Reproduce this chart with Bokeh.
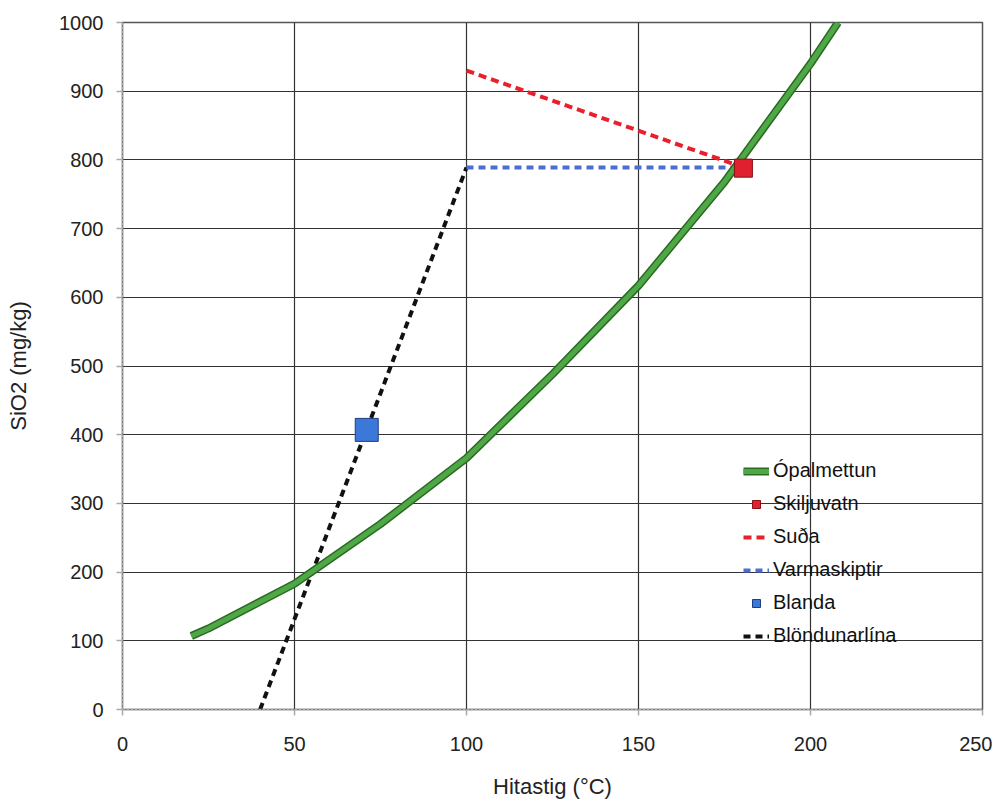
from bokeh.plotting import figure
from bokeh.models import Range1d, Legend, LegendItem, FixedTicker
from bokeh.embed import file_html
from bokeh.resources import INLINE

# Data
opal_t = [20, 25, 50, 75, 100, 125, 150, 175, 200, 208]
opal_sio2 = [107, 118, 183, 270, 366, 488, 617, 768, 940, 1000]

skilju_t = [180.5]
skilju_sio2 = [788]

suda_t = [100, 180]
suda_sio2 = [930, 790]

varma_t = [100, 180]
varma_sio2 = [789, 789]

blanda_t = [71]
blanda_sio2 = [407]

blond_t = [40, 100]
blond_sio2 = [0, 789]

x_ticks = [0, 50, 100, 150, 200, 250]
y_ticks = [0, 100, 200, 300, 400, 500, 600, 700, 800, 900, 1000]

FONT = "Liberation Sans"

p = figure(width=992, height=801, output_backend="svg", toolbar_location=None,
           x_range=Range1d(0, 250), y_range=Range1d(0, 1000),
           min_border_left=122, min_border_right=10, min_border_top=22,
           min_border_bottom=92)

p.outline_line_color = "#555555"
p.outline_line_width = 1.5
p.background_fill_color = "white"
p.border_fill_color = "white"

for ax in (p.xaxis[0], p.yaxis[0]):
    ax.axis_line_color = "#aaaaaa"
    ax.axis_line_width = 1.5
    ax.axis_line_dash = "3 1"
    ax.major_tick_line_color = "#aaaaaa"
    ax.major_tick_line_width = 1.5
    ax.major_tick_out = 6
    ax.major_tick_in = 0
    ax.minor_tick_line_color = None
    ax.major_label_text_font = FONT
    ax.major_label_text_font_size = "20px"
    ax.major_label_text_color = "#222222"
    ax.axis_label_text_font = FONT
    ax.axis_label_text_font_size = "22px"
    ax.axis_label_text_font_style = "normal"
    ax.axis_label_text_color = "#222222"

p.xaxis[0].ticker = FixedTicker(ticks=x_ticks)
p.yaxis[0].ticker = FixedTicker(ticks=y_ticks)
p.xaxis[0].axis_label = "Hitastig (°C)"
p.yaxis[0].axis_label = "SiO2 (mg/kg)"
p.xaxis[0].major_label_standoff = 21
p.xaxis[0].axis_label_standoff = 20
p.yaxis[0].major_label_standoff = 13
p.yaxis[0].axis_label_standoff = 25

p.xgrid.ticker = FixedTicker(ticks=x_ticks[1:-1])
p.ygrid.ticker = FixedTicker(ticks=y_ticks[1:-1])
p.xgrid.grid_line_color = "#333333"
p.ygrid.grid_line_color = "#333333"
p.xgrid.grid_line_width = 1.2
p.ygrid.grid_line_width = 1.2

# Lines
r_blond = p.line(blond_t, blond_sio2, line_color="#111111", line_width=4, line_dash="7 5")
r_varma = p.line(varma_t, varma_sio2, line_color="#4a6fd0", line_width=4, line_dash="7 5")
r_suda = p.line(suda_t, suda_sio2, line_color="#e8202c", line_width=4, line_dash="8 5")
r_opal_o = p.line(opal_t, opal_sio2, line_color="#2c6a24", line_width=8)
r_opal_i = p.line(opal_t, opal_sio2, line_color="#4ea846", line_width=5)

r_skilju = p.scatter(skilju_t, skilju_sio2, marker="square", size=18,
                     fill_color="#e0202e", line_color="#8a1018", line_width=1)
r_blanda = p.scatter(blanda_t, blanda_sio2, marker="square", size=23,
                     fill_color="#3c78d8", line_color="#1f3d80", line_width=1)

legend = Legend(items=[
    LegendItem(label="Ópalmettun", renderers=[r_opal_o, r_opal_i]),
    LegendItem(label="Skiljuvatn", renderers=[r_skilju]),
    LegendItem(label="Suða", renderers=[r_suda]),
    LegendItem(label="Varmaskiptir", renderers=[r_varma]),
    LegendItem(label="Blanda", renderers=[r_blanda]),
    LegendItem(label="Blöndunarlína", renderers=[r_blond]),
], location=(621, 62))
legend.background_fill_alpha = 0
legend.border_line_color = None
legend.label_text_font = FONT
legend.label_text_font_size = "20px"
legend.label_text_color = "#111111"
legend.spacing = 10
legend.padding = 0
legend.glyph_width = 26
legend.glyph_height = 20
legend.label_height = 20
legend.label_standoff = 4
p.add_layout(legend, "center")

open("out.html", "w").write(file_html(p, INLINE))
